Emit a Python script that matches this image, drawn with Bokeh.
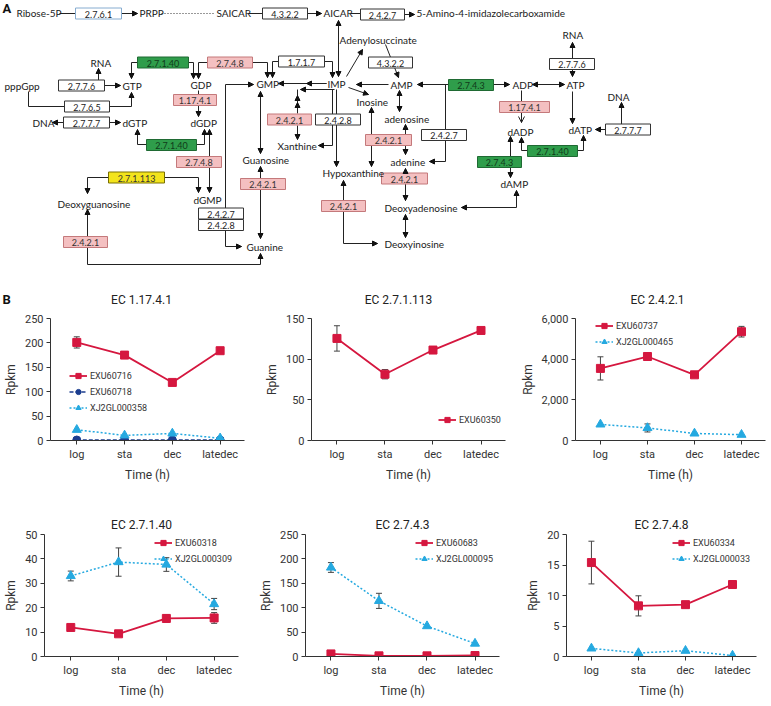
import math
from bokeh.plotting import figure
from bokeh.models import (Range1d, ColumnDataSource, Arrow, NormalHead, OpenHead,
                          Whisker, TeeHead, FixedTicker, NumeralTickFormatter,
                          Legend, LegendItem)
from bokeh.layouts import column, row
from bokeh.embed import file_html
from bokeh.resources import INLINE
from bokeh.core.properties import value

# ------------------------------------------------------------------
# Panel B data
# ------------------------------------------------------------------
time_labels = ["log", "sta", "dec", "latedec"]
chart_titles = ["EC 1.17.4.1", "EC 2.7.1.113", "EC 2.4.2.1",
                "EC 2.7.1.40", "EC 2.7.4.3", "EC 2.7.4.8"]

# EC 1.17.4.1
exu60716 = [201, 175, 119, 184]
exu60716_err = [11.5, 0, 0, 0]
exu60718 = [1, 1, 1, 1]
exu60718_err = [0, 0, 0, 0]
xj2gl000358 = [22, 10.5, 14.5, 4.6]
xj2gl000358_err = [0, 0, 0, 0]

# EC 2.7.1.113
exu60350 = [125.5, 81.5, 111.2, 135.3]
exu60350_err = [15.6, 5.7, 4.0, 0]

# EC 2.4.2.1
exu60737 = [3546, 4131, 3230, 5351]
exu60737_err = [570, 126, 0, 261]
xj2gl000465 = [792, 617, 348, 285]
xj2gl000465_err = [0, 198, 0, 0]

# EC 2.7.1.40
exu60318 = [11.9, 9.3, 15.6, 15.8]
exu60318_err = [0, 0, 1.5, 2.2]
xj2gl000309 = [33.0, 38.7, 37.7, 21.5]
xj2gl000309_err = [2.0, 5.8, 2.8, 2.3]

# EC 2.7.4.3
exu60683 = [5.3, 1.3, 1.3, 2.0]
exu60683_err = [0, 0, 0, 0]
xj2gl000095 = [182.4, 114.0, 62.3, 26.5]
xj2gl000095_err = [10.0, 15.5, 0, 0]

# EC 2.7.4.8
exu60334 = [15.4, 8.3, 8.5, 11.8]
exu60334_err = [3.5, 1.65, 0, 0.4]
xj2gl000033 = [1.33, 0.58, 0.95, 0.16]
xj2gl000033_err = [0, 0, 0, 0]

# ------------------------------------------------------------------
# Styles
# ------------------------------------------------------------------
RED = "#d5173f"
NAVY = "#1b3d8f"
CYAN = "#25a9e0"
STYLE = {
    "red": dict(color=RED, marker="square", size=8, dash="solid", lw=1.8),
    "navy": dict(color=NAVY, marker="circle", size=8, dash="4 2", lw=1.5),
    "cyan": dict(color=CYAN, marker="triangle", size=9, dash="2 2", lw=1.5),
}
CFONT = "Roboto"
TXT = "#333333"
FH = 122


def chart(title, series, ymax, yticks, xr, fw, bl, br, bt, bb, leg_loc, comma=False):
    kw = dict(title=title) if title else {}
    p = figure(frame_width=fw, frame_height=FH,
               x_range=Range1d(*xr), y_range=Range1d(0, ymax),
               min_border_left=bl, min_border_right=br,
               min_border_top=bt, min_border_bottom=bb,
               output_backend="svg", toolbar_location=None, **kw)
    p.outline_line_color = None
    p.grid.visible = False
    if title:
        p.title.align = "center"
        p.title.text_font = CFONT
        p.title.text_font_size = "12px"
        p.title.text_font_style = "normal"
        p.title.text_color = "#222222"
        p.title.standoff = 6
    for ax in (p.xaxis[0], p.yaxis[0]):
        ax.axis_line_color = TXT
        ax.major_tick_line_color = TXT
        ax.minor_tick_line_color = None
        ax.major_tick_out = 4
        ax.major_tick_in = 0
        ax.major_label_text_font = CFONT
        ax.major_label_text_font_size = "11px"
        ax.major_label_text_color = TXT
        ax.axis_label_text_font = CFONT
        ax.axis_label_text_font_size = "12px"
        ax.axis_label_text_font_style = "normal"
        ax.axis_label_text_color = TXT
        ax.major_label_standoff = 3
        ax.axis_label_standoff = 4
    p.xaxis.ticker = FixedTicker(ticks=list(range(len(time_labels))))
    p.xaxis.major_label_overrides = {i: lab for i, lab in enumerate(time_labels)}
    p.xaxis.axis_label = "Time (h)"
    p.yaxis.ticker = FixedTicker(ticks=yticks)
    p.yaxis.axis_label = "Rpkm"
    if comma:
        p.yaxis.formatter = NumeralTickFormatter(format="0,0")

    xs = list(range(len(time_labels)))
    items = []
    for name, vals, errs, sty in series:
        st = STYLE[sty]
        r1 = p.line(xs, vals, line_color=st["color"], line_width=st["lw"], line_dash=st["dash"])
        wb = [x for x, e in zip(xs, errs) if e > 0]
        if wb:
            lo = [v - e for v, e in zip(vals, errs) if e > 0]
            hi = [v + e for v, e in zip(vals, errs) if e > 0]
            src = ColumnDataSource(dict(base=wb, lower=lo, upper=hi))
            p.add_layout(Whisker(source=src, base="base", lower="lower", upper="upper",
                                 dimension="height", line_color="#444444", line_width=1,
                                 upper_head=TeeHead(size=6, line_color="#444444", line_width=1),
                                 lower_head=TeeHead(size=6, line_color="#444444", line_width=1)))
        r2 = p.scatter(xs, vals, marker=st["marker"], size=st["size"],
                       fill_color=st["color"], line_color=st["color"])
        items.append(LegendItem(label=name, renderers=[r1, r2]))
    leg = Legend(items=items, location=leg_loc, background_fill_alpha=0,
                 border_line_color=None, label_text_font=CFONT,
                 label_text_font_size="9px", label_text_color=TXT,
                 glyph_width=18, glyph_height=13, label_height=13,
                 spacing=3, padding=0, margin=0, label_standoff=3)
    p.add_layout(leg)
    return p


# row 1 (titles are drawn as text in the top canvas, next to the "B" label)
c1 = chart(None,
           [("EXU60716", exu60716, exu60716_err, "red"),
            ("EXU60718", exu60718, exu60718_err, "navy"),
            ("XJ2GL000358", xj2gl000358, xj2gl000358_err, "cyan")],
           250, [0, 50, 100, 150, 200, 250], (-0.55, 3.51), 194, 44, 17, 8, 40, (19, 26))
c2 = chart(None,
           [("EXU60350", exu60350, exu60350_err, "red")],
           150, [0, 50, 100, 150], (-0.53, 3.51), 194, 46, 12, 8, 40, (127, 14))
c3 = chart(None,
           [("EXU60737", exu60737, exu60737_err, "red"),
            ("XJ2GL000465", xj2gl000465, xj2gl000465_err, "cyan")],
           6000, [0, 2000, 4000, 6000], (-0.53, 3.51), 190, 55, 3, 8, 40, (20, 92), comma=True)
# row 2
c4 = chart(chart_titles[3],
           [("EXU60318", exu60318, exu60318_err, "red"),
            ("XJ2GL000309", xj2gl000309, xj2gl000309_err, "cyan")],
           50, [0, 10, 20, 30, 40, 50], (-0.55, 3.51), 194, 44, 17, 50, 38, (110, 91))
c5 = chart(chart_titles[4],
           [("EXU60683", exu60683, exu60683_err, "red"),
            ("XJ2GL000095", xj2gl000095, xj2gl000095_err, "cyan")],
           250, [0, 50, 100, 150, 200, 250], (-0.53, 3.51), 194, 46, 12, 50, 38, (110, 91))
c6 = chart(chart_titles[5],
           [("EXU60334", exu60334, exu60334_err, "red"),
            ("XJ2GL000033", xj2gl000033, xj2gl000033_err, "cyan")],
           20, [0, 5, 10, 15, 20], (-0.53, 3.51), 190, 55, 3, 50, 38, (106, 91))

# ------------------------------------------------------------------
# Panel A: pathway diagram (layout in reference pixel space)
# ------------------------------------------------------------------
d = figure(width=755, height=310, x_range=Range1d(6, 761), y_range=Range1d(316, 6),
           x_axis_location=None, y_axis_location=None, min_border=0,
           output_backend="svg", toolbar_location=None)
d.grid.visible = False
d.outline_line_color = None

links = []


def link(pts, start=False, end=True):
    links.append((pts, start, end))


# top row
link([(65, 19), (81, 19)], end=False)
link([(127, 19), (143, 19)])
link([(254, 19), (268, 19)], end=False)
link([(313, 19), (327, 19)])
link([(356, 19), (366, 19)], end=False)
link([(410, 20), (420, 20)])
link([(344, 82), (344, 26)], start=True)
link([(352, 82), (368, 55)])
link([(391, 50), (404, 83)])
# GTP area
link([(104, 86), (104, 74)])
link([(110, 91), (126, 91)])
link([(34, 97), (34, 112), (70, 112)], end=False)
link([(115, 112), (137, 112), (137, 98)])
link([(143, 68), (137, 68), (137, 84)])
link([(194, 68), (199, 68), (199, 84)])
link([(213, 68), (204, 68), (204, 84)])
link([(258, 68), (273, 68), (273, 83)])
link([(284, 67), (278, 67), (278, 83)])
link([(330, 67), (338, 67), (338, 83)])
link([(204, 96), (204, 122)])
link([(69, 128), (58, 128)])
link([(115, 128), (126, 128)])
link([(152, 150), (143, 150), (143, 135)])
link([(202, 150), (210, 150), (210, 135)])
link([(215, 198), (215, 135)], start=True)
link([(114, 183), (93, 183), (93, 199)])
link([(170, 183), (204, 183), (204, 198)])
link([(93, 270), (93, 215)])
link([(93, 270), (266, 270), (266, 259)])
link([(231, 252), (231, 90), (259, 90)])
link([(231, 252), (247, 252)])
# IMP area
link([(332, 89), (284, 89)])
link([(332, 89), (312, 89)])
link([(340, 95), (306, 95)])
link([(303, 95), (303, 119)], end=False)
link([(303, 106), (303, 101)])
link([(303, 114), (303, 108)])
link([(303, 131), (303, 145)])
link([(338, 95), (338, 151), (324, 151)])
link([(342, 95), (342, 172)])
link([(266, 97), (266, 159)], start=True)
link([(266, 172), (266, 244)], start=True)
link([(354, 93), (374, 100)])
link([(394, 90), (362, 90)])
link([(377, 113), (377, 172)], start=True)
link([(349, 186), (349, 249), (383, 249)], start=True)
# AMP / ADP / ATP area
link([(405, 96), (405, 117)], start=True)
link([(454, 90), (423, 90)])
link([(499, 90), (515, 90)])
link([(451, 90), (451, 167), (435, 167)])
link([(411, 130), (411, 160)], start=True)
link([(411, 174), (411, 206)], start=True)
link([(411, 220), (411, 243)], start=True)
link([(522, 196), (522, 213), (467, 213)], start=True)
link([(538, 90), (570, 90)], start=True)
link([(578, 82), (578, 48)], start=True)
link([(578, 97), (578, 129)])
link([(611, 135), (601, 135)])
link([(627, 130), (627, 108)])
link([(583, 156), (589, 156), (589, 141)])
link([(533, 156), (527, 156), (527, 143)])
link([(516, 142), (516, 183)], start=True)

line_xs, line_ys = [], []
hx0, hy0, hx1, hy1 = [], [], [], []


def add_head(a, b):
    dx, dy = b[0] - a[0], b[1] - a[1]
    L = math.hypot(dx, dy) or 1.0
    hx0.append(b[0] - dx / L * 2.5)
    hy0.append(b[1] - dy / L * 2.5)
    hx1.append(b[0])
    hy1.append(b[1])


for pts, st, en in links:
    line_xs.append([q[0] for q in pts])
    line_ys.append([q[1] for q in pts])
    if en:
        add_head(pts[-2], pts[-1])
    if st:
        add_head(pts[1], pts[0])

# open-headed arrow ADP -> dADP
line_xs.append([527, 527])
line_ys.append([96, 128])

d.multi_line(line_xs, line_ys, line_color="#222222", line_width=1)
d.line([167, 219], [19, 19], line_color="#333333", line_width=1, line_dash="1 2")
d.add_layout(Arrow(end=NormalHead(size=5, fill_color="#111111", line_color="#111111", line_width=1),
                   source=ColumnDataSource(dict(x0=hx0, y0=hy0, x1=hx1, y1=hy1)),
                   x_start="x0", y_start="y0", x_end="x1", y_end="y1",
                   line_color="#111111", line_width=1))
d.add_layout(Arrow(end=OpenHead(size=6, line_color="#222222", line_width=1),
                   x_start=527, y_start=122, x_end=527, y_end=128,
                   line_color="#222222", line_width=1))

# enzyme boxes: (label, x0, x1, yc, kind)
boxes = [
    ("2.7.6.1", 81, 127, 19, "blue"), ("4.3.2.2", 268, 313, 19, "white"),
    ("2.4.2.7", 366, 410, 20, "white"), ("2.7.1.40", 143, 194, 68, "green"),
    ("2.7.4.8", 213, 258, 68, "pink"), ("1.7.1.7", 284, 330, 67, "white"),
    ("4.3.2.2", 374, 418, 68, "white"), ("2.7.7.6", 64, 110, 91, "white"),
    ("2.7.6.5", 70, 115, 112, "white"), ("1.17.4.1", 179, 222, 105.5, "pink"),
    ("2.7.7.7", 69, 115, 128, "white"), ("2.4.2.1", 273, 317, 125, "pink"),
    ("2.4.2.8", 321, 366, 125, "white"), ("2.7.4.3", 454, 499, 90.5, "green"),
    ("2.7.7.6", 555, 600, 69.5, "white"), ("1.17.4.1", 505, 555, 112.5, "pink"),
    ("2.7.7.7", 611, 656, 135, "white"), ("2.7.1.40", 152, 202, 150.5, "green"),
    ("2.7.4.8", 182, 227, 167.5, "pink"), ("2.7.1.113", 114, 170, 183, "yellow"),
    ("2.4.2.1", 246, 291, 189.5, "pink"), ("2.4.2.7", 204, 249, 219, "white"),
    ("2.4.2.8", 204, 249, 230.5, "white"), ("2.4.2.1", 69, 113, 247.5, "pink"),
    ("2.4.2.1", 327, 371, 211.5, "pink"), ("2.4.2.1", 371, 417, 145.5, "pink"),
    ("2.4.2.7", 427, 472, 140.5, "white"), ("2.4.2.1", 387, 433, 184, "pink"),
    ("2.7.1.40", 533, 583, 156.5, "green"), ("2.7.4.3", 483, 527, 167.5, "green"),
]
KIND = {
    "white": ("#ffffff", "#333333", "#222222"),
    "pink": ("#f4c0c1", "#c4797b", "#333333"),
    "green": ("#2f9d4b", "#1f6a33", "#103a1a"),
    "yellow": ("#f3e41c", "#7a7000", "#333333"),
    "blue": ("#ffffff", "#86acd0", "#222222"),
}
bsrc = ColumnDataSource(dict(
    left=[b[1] for b in boxes], right=[b[2] for b in boxes],
    top=[b[3] - 5.5 for b in boxes], bottom=[b[3] + 5.5 for b in boxes],
    fill=[KIND[b[4]][0] for b in boxes], line=[KIND[b[4]][1] for b in boxes],
    tcol=[KIND[b[4]][2] for b in boxes], label=[b[0] for b in boxes],
    cx=[(b[1] + b[2]) / 2 for b in boxes], cy=[b[3] + 0.5 for b in boxes],
))
d.quad(left="left", right="right", top="top", bottom="bottom", source=bsrc,
       fill_color="fill", line_color="line", line_width=1)
d.text(x="cx", y="cy", text="label", source=bsrc, text_color="tcol",
       text_font=value("Lato"), text_font_size="9px", text_align="center",
       text_baseline="middle")

# compound names: (label, x_left, y)
names = [
    ("Ribose-5P", 22, 18), ("PRPP", 145, 18), ("SAICAR", 222, 18), ("AICAR", 329, 18),
    ("5-Amino-4-imidazolecarboxamide", 422, 18), ("Adenylosuccinate", 345, 45),
    ("RNA", 96, 68), ("pppGpp", 10, 91), ("GTP", 128, 91), ("GDP", 196, 90),
    ("GMP", 262, 89), ("IMP", 333, 89), ("AMP", 396, 90), ("ADP", 518, 90),
    ("ATP", 572, 90), ("RNA", 568, 40), ("Inosine", 362, 107), ("DNA", 38, 128),
    ("dGTP", 128, 128), ("dGDP", 196, 128), ("adenosine", 390, 124), ("DNA", 613, 102),
    ("dADP", 513, 137), ("dATP", 574, 135), ("Xanthine", 283, 151), ("Guanosine", 248, 165),
    ("adenine", 396, 167), ("Hypoxanthine", 328, 178), ("dAMP", 506, 189),
    ("dGMP", 199, 205), ("Deoxyguanosine", 63, 209), ("Deoxyadenosine", 390, 213),
    ("Deoxyinosine", 390, 249), ("Guanine", 252, 252),
]
d.text(x=[n[1] for n in names], y=[n[2] for n in names], text=[n[0] for n in names],
       text_font=value("Lato"), text_font_size="10px", text_color="#1a1a1a",
       text_align="left", text_baseline="middle")

# panel letters
d.text(x=[8, 8], y=[14, 305], text=["A", "B"], text_font=value(CFONT), text_font_style="bold",
       text_font_size="13px", text_color="#111111", text_baseline="middle")
# titles of the first row of charts, centred over each chart frame
d.text(x=[147, 404, 663], y=[305, 305, 305], text=chart_titles[:3],
       text_font=value(CFONT), text_font_size="12px", text_color="#222222",
       text_align="center", text_baseline="middle")

layout = column(d, row(c1, c2, c3), row(c4, c5, c6))
open("out.html", "w").write(file_html(layout, INLINE))
